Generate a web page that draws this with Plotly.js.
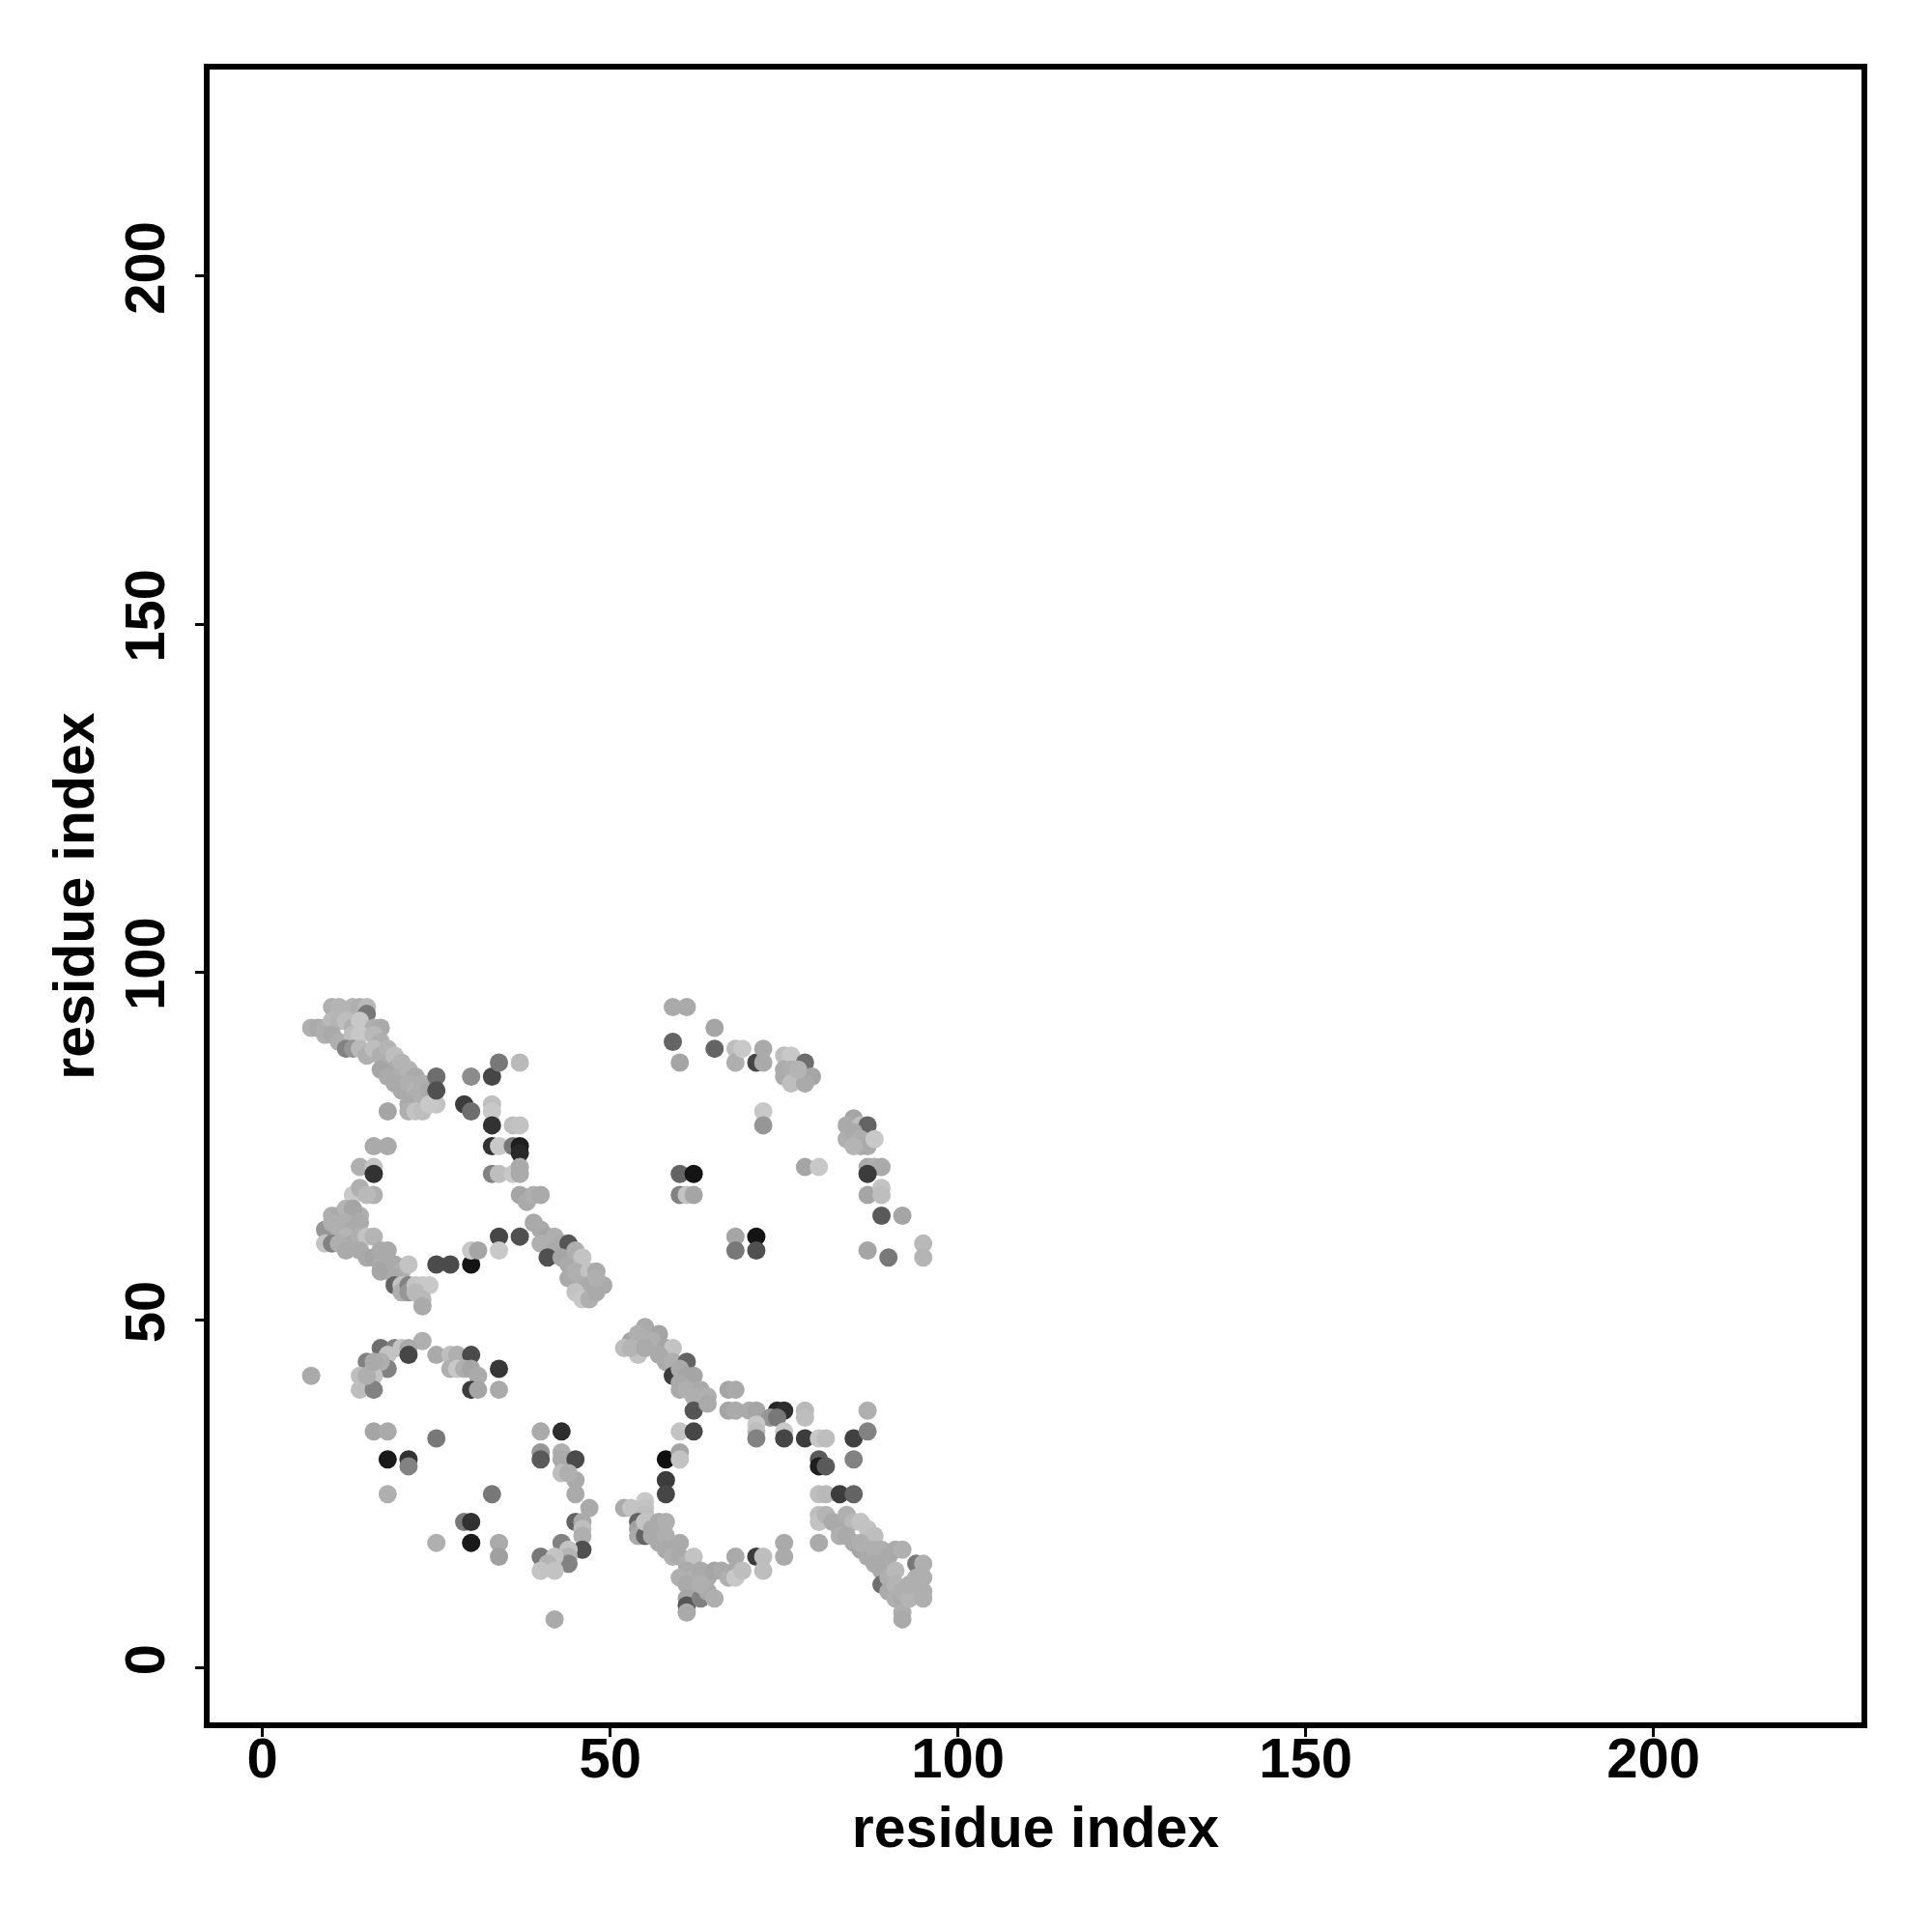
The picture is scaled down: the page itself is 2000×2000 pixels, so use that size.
<!DOCTYPE html>
<html>
<head>
<meta charset="utf-8">
<script src="https://cdn.plot.ly/plotly-3.0.1.min.js"></script>
<style>html,body{margin:0;padding:0;background:#fff;}#plot{width:2000px;height:2000px;}</style>
</head>
<body>
<div id="plot"></div>
<script>
// residue i (x), residue j (y), gray shade (0 = black, 255 = white)
const resX = [
10,11,13,14,15,15, 7,8,9,10,11,12,13,14,16,17, 9,10,11,13,14,16,17, 12,13,14,15,16,17,18,
18,19,19,20,17,18, 20,21,22,19,20,21,22,23,22,21,23,24, 21,22,23,25,24, 18,25,25,
30,33,34,37, 29,30,33,33,33,36,37, 33,34,36,37,37, 33,34,36,37,37, 37,38,39,40,39,
16,18,14,16,16, 13,14,16,15, 10,11,12,14,13, 9,10,11,12,13,14,12,13,
9,10,11,12,14,15,16,14,15,16, 17,18,17,18,17,19,20,21,19,
19,20,20,21,21,22,23,24,22,23,23, 25,27,30,30,31,34,34,37,
40,41,42,40,42,43,44,41,43,44,45,46,44,45,47,48,46,47,49,45,46,47,48,48,
23,17,19,20,21,21,18,15,16,18,17,14,16,15,14,16,15,16,
25,27,28,30,27,28,29,30,31,34,30,31,34,7,
16,18,25, 18,21,21,18,33,29,30,25,30,34,34,
59,61,65,59,65,68,68,60, 60,62,60,61,62, 69,71,72,72,
75,76,75,75,76,77,78,79,76,78,77, 72,72,78,80,
85,84,86,87,84,85,86,86,87,88,85, 87,88,89,87,87,89,89,89,92,
68,71,68,71,87,90,95,95,
53,55,54,57,56,52,54,53,55,58,59,57,58,59,61,59,60,61,62,60,60,61,63,62,64,62,64,
67,68,67,68,70,71,74,75,73,74,78,78,71,71,71,75,75,78,80,81,85,87,87,85,
40,43,60,62,
40,40,43,43,45,43,45,44,45,47,45,46,46,46,46,43,44,44,44,40,42,41,40,42,42,
58,60,60,58,58,
52,53,55,55,55,54,54,54,55,55,56,57,58,56,57,58,58,59,60,60,61,62,61,62,63,64,65,60,61,62,61,61,61,63,64,65,63,66,67,
68,68,68,69,71,72,72,75,75,
80,80,81, 80,81,83,85,
80,80,81,82,83,84,85,86,87,88,83,84,85,86,87,86,88,89,90,91,92,88,89,89,90,91,90,91,91,92,92,92,92,93,94,95,94,95,95,95,93,80
];
const resY = [
95,95,95,95,95,94, 92,92,92,93,93,93,92,93,92,92, 91,91,90,91,91,91,90, 89,89,89,88,89,88,89,
87,88,86,87,86,85, 85,86,85,84,83,84,83,84,82,81,82,83, 80,80,80,81,81, 80,85,83,
85,85,87,87, 81,80,81,80,78,78,78, 75,75,75,75,74, 71,71,71,72,71, 68,67,68,68,64,
75,75,72,72,71, 68,69,68,68, 65,65,66,65,66, 63,64,63,64,63,64,62,61,
61,61,61,60,62,62,62,60,59,59, 60,60,58,58,57,58,57,58,56,
55,55,54,55,54,55,55,55,54,53,52, 58,58,58,60,60,62,60,62,
63,62,62,61,60,61,61,59,59,58,60,59,56,57,57,57,55,55,55,54,53,53,54,56,
47,46,46,46,46,45,45,44,43,43,44,42,42,41,40,40,42,44,
45,45,45,45,43,43,43,43,42,43,40,40,40,42,
34,34,33, 30,30,29,25,25,21,21,18,18,18,16,
95,95,92,90,89,89,87,87, 71,71,68,68,68, 89,87,89,87,
88,88,86,85,86,85,87,85,84,84,86, 80,78,72,72,
79,78,78,78,76,77,76,75,75,76,75, 72,72,72,71,68,69,68,65,65,
62,62,60,60,60,59,61,59,
47,49,48,48,47,46,45,46,46,46,46,45,44,44,44,42,43,42,42,41,40,40,40,39,39,37,38,
40,40,37,37,37,37,37,37,36,36,37,36,35,34,33,34,33,33,33,33,33,37,34,30,
34,34,34,34,
31,30,31,30,30,28,27,28,25,23,21,21,20,19,17,18,17,16,15,16,16,15,14,14,7,
30,31,30,27,25,
23,23,24,23,22,21,20,19,19,21,20,21,21,19,18,19,17,16,18,16,15,16,14,13,14,13,14,13,12,11,10,9,8,10,11,10,12,14,13,
16,14,13,14,16,16,14,18,16,
30,29,29, 25,25,25,25,
22,21,22,21,20,22,21,21,20,19,19,19,18,17,16,18,17,17,16,17,17,15,14,12,13,14,11,12,10,10,11,8,7,10,15,15,13,13,11,10,12,18
];
const shade = [
175,180,180,175,185,120, 175,170,175,185,180,190,175,200,175,170, 175,170,175,190,200,185,175, 130,150,185,175,190,175,180,
175,190,170,180,165,170, 175,180,170,170,170,175,180,175,175,170,175,170, 175,195,190,195,200, 165,110,80,
140,70,120,185, 60,110,190,200,50,190,195, 50,200,120,30,40, 130,190,200,170,170, 165,170,175,170,170,
170,170,175,195,50, 200,175,175,185, 175,170,180,175,165, 150,175,175,175,170,170,180,170,
195,130,175,170,175,195,180,170,170,165, 170,170,170,170,165,170,175,195,170,
100,195,175,130,150,195,200,200,185,185,170, 75,75,20,200,165,70,200,80,
170,165,175,175,170,170,85,80,165,170,175,195,170,175,195,170,175,170,170,195,200,175,170,175,
175,110,130,195,170,70,195,130,190,130,175,190,195,180,190,130,175,170,
170,190,175,75,175,200,175,165,170,55,60,165,170,170,
165,170,120, 25,50,130,175,120,120,50,175,25,170,160,
170,170,165,100,100,190,175,165, 100,20,130,195,165, 200,70,170,170,
190,200,170,170,175,170,110,165,190,170,180, 200,150,165,200,
165,170,190,100,175,170,175,170,170,200,180, 170,175,170,60,165,195,190,90,165,
165,20,120,80,165,120,185,180,
165,170,175,165,175,190,195,180,170,165,195,170,170,175,100,60,170,165,165,170,170,175,170,175,175,85,170,
165,170,165,170,170,165,40,45,150,120,185,190,200,190,130,200,70,60,200,190,65,175,130,130,
170,45,195,70,
150,90,175,170,75,190,170,175,170,170,100,170,190,175,80,130,195,180,130,120,195,180,195,195,170,
15,165,195,60,70,
170,195,200,195,190,100,160,170,100,195,170,170,175,170,170,175,170,175,170,170,175,195,170,175,170,170,165,175,170,170,165,85,170,130,170,175,175,170,175,
170,170,200,190,60,190,190,170,170,
90,30,90, 190,185,60,100,
190,195,180,170,170,175,185,195,195,190,175,170,170,165,170,175,175,175,170,170,175,170,170,110,175,185,170,180,175,170,175,175,170,180,120,175,175,175,175,175,175,170
];
const xTicks = [0, 50, 100, 150, 200];
const yTicks = [0, 50, 100, 150, 200];
const axisTitle = 'residue index';

const colors = shade.map(g => `rgb(${g},${g},${g})`);
const fontFam = '"Liberation Sans", Arial, Helvetica, sans-serif';

const trace = {
  type: 'scatter', mode: 'markers',
  x: resX, y: resY,
  marker: {size: 19, color: colors, line: {width: 0}},
  hoverinfo: 'x+y'
};

const axisCommon = {
  showgrid: false, zeroline: false,
  showline: true, mirror: true, linecolor: '#000', linewidth: 6,
  ticks: 'outside', ticklen: 9, tickwidth: 3, tickcolor: '#000',
  tickmode: 'array',
  tickfont: {family: fontFam, size: 58, color: '#000', weight: 'bold'},
  automargin: false
};

const layout = {
  width: 2000, height: 2000,
  paper_bgcolor: '#fff', plot_bgcolor: '#fff',
  showlegend: false,
  margin: {l: 217, r: 73, t: 72, b: 217, pad: 0},
  xaxis: Object.assign({}, axisCommon, {
    range: [-7.6, 229.9], tickvals: xTicks, ticktext: xTicks.map(String),
    ticklabelstandoff: -28,
    title: {text: axisTitle, font: {family: fontFam, size: 59, color: '#000', weight: 'bold'}, standoff: 22}
  }),
  yaxis: Object.assign({}, axisCommon, {
    range: [-7.8, 229.7], tickvals: yTicks, ticktext: yTicks.map(String),
    tickangle: -90,
    ticklabelstandoff: 9,
    title: {text: axisTitle, font: {family: fontFam, size: 59, color: '#000', weight: 'bold'}, standoff: 2}
  })
};

Plotly.newPlot('plot', [trace], layout, {staticPlot: true, displayModeBar: false});
</script>
</body>
</html>
